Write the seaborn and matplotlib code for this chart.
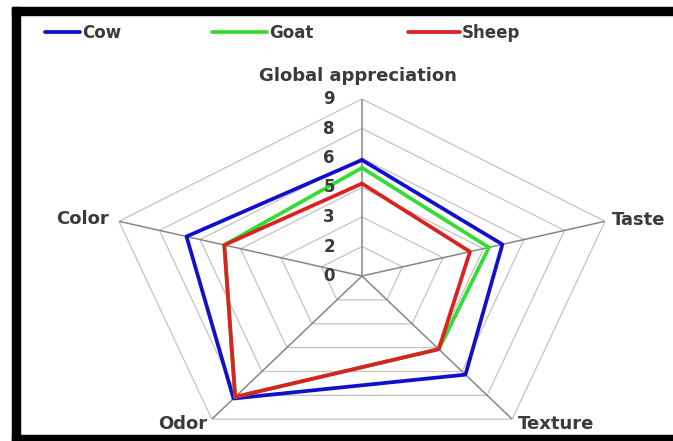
import numpy as np
import pandas as pd
import matplotlib
matplotlib.use("Agg")
import matplotlib.pyplot as plt
from matplotlib.lines import Line2D
from matplotlib.patches import Rectangle
import seaborn as sns

# ---- data ----
categories = ["Global appreciation", "Taste", "Texture", "Odor", "Color"]
series_names = ["Cow", "Goat", "Sheep"]
cow = [5.9, 5.2, 6.2, 7.7, 6.5]
goat = [5.5, 4.7, 4.6, 7.6, 5.1]
sheep = [4.7, 4.0, 4.6, 7.6, 5.1]
tick_values = [0, 1.5, 3, 4.5, 6, 7.5, 9]
tick_labels = ["0", "2", "3", "5", "6", "8", "9"]
colors = {"Cow": "#1010cc", "Goat": "#33dd33", "Sheep": "#dd2020"}

sns.set_theme(style="white")
plt.rcParams["font.family"] = ["DejaVu Sans"]
TXT = "#3a3a3a"

W, H = 673, 441
fig = plt.figure(figsize=(W / 100, H / 100), dpi=100)

# axes placement (pixel geometry of the horizontally stretched radar)
cx, cy = 362, 276
rx, ry = 255.5, 177
ax = fig.add_axes([(cx - rx) / W, 1 - (cy + ry) / H, 2 * rx / W, 2 * ry / H],
                  projection="polar")
ax.set_aspect("auto")
ax.set_theta_offset(np.pi / 2)
ax.set_theta_direction(-1)
ax.set_ylim(0, 9)
ax.grid(False)
ax.spines["polar"].set_visible(False)
ax.set_xticks([])
ax.set_yticks([])
ax.patch.set_alpha(0)

n = len(categories)
angles = np.arange(n) * 2 * np.pi / n
closed = np.append(angles, 2 * np.pi)

# polygon grid
for v in tick_values[1:]:
    ax.plot(closed, [v] * (n + 1), color="#c4c4c4", lw=0.9, zorder=1)
for a in angles:
    ax.plot([a, a], [0, 9], color="#868686", lw=1.1, zorder=1)

# data lines via seaborn
rows = []
for name, vals in zip(series_names, [cow, goat, sheep]):
    for i, t in enumerate(closed):
        rows.append({"Animal": name, "theta": t, "value": vals[i % n]})
df = pd.DataFrame(rows)
sns.lineplot(data=df, x="theta", y="value", hue="Animal", palette=colors,
             sort=False, estimator=None, units="Animal", linewidth=2.7,
             ax=ax, legend=False, zorder=3)
ax.set_xlabel("")
ax.set_ylabel("")

# radial labels
for v, lab in zip(tick_values, tick_labels):
    ax.annotate(lab, xy=(0, v), xytext=(-19.5, 0), textcoords="offset points",
                ha="right", va="center", fontsize=12, fontweight="bold",
                color=TXT, annotation_clip=False)

# category labels
offsets = [(-3, 16.5, "center"), (5, 0.7, "left"), (4, -3.6, "left"),
           (-3.6, -3.6, "right"), (-7, 1.5, "right")]
for a, lab, (dx, dy, ha) in zip(angles, categories, offsets):
    ax.annotate(lab, xy=(a, 9), xytext=(dx, dy), textcoords="offset points",
                ha=ha, va="center", fontsize=13, fontweight="bold",
                color=TXT, annotation_clip=False)

# legend: one entry per series, placed along the top
leg_x = [45, 212, 408]
leg_len = [2.1, 3.3, 3.1]
for s, x0, hl in zip(series_names, leg_x, leg_len):
    leg = fig.legend([Line2D([0], [0], color=colors[s], lw=2.7)], [s],
                     loc="center left", bbox_to_anchor=(x0 / W, 1 - 33 / H),
                     frameon=False, borderpad=0, borderaxespad=0,
                     handlelength=hl, handletextpad=0.15,
                     prop={"weight": "bold", "size": 12})
    for t in leg.get_texts():
        t.set_color(TXT)

# black frame (left, top, bottom)
for (x0, y0, x1, y1) in [(12, 7, 20, 441), (12, 7, 673, 15), (12, 435, 673, 441)]:
    fig.add_artist(Rectangle((x0 / W, 1 - y1 / H), (x1 - x0) / W, (y1 - y0) / H,
                             transform=fig.transFigure, color="black", zorder=10))

fig.savefig("out.png", dpi=100)
